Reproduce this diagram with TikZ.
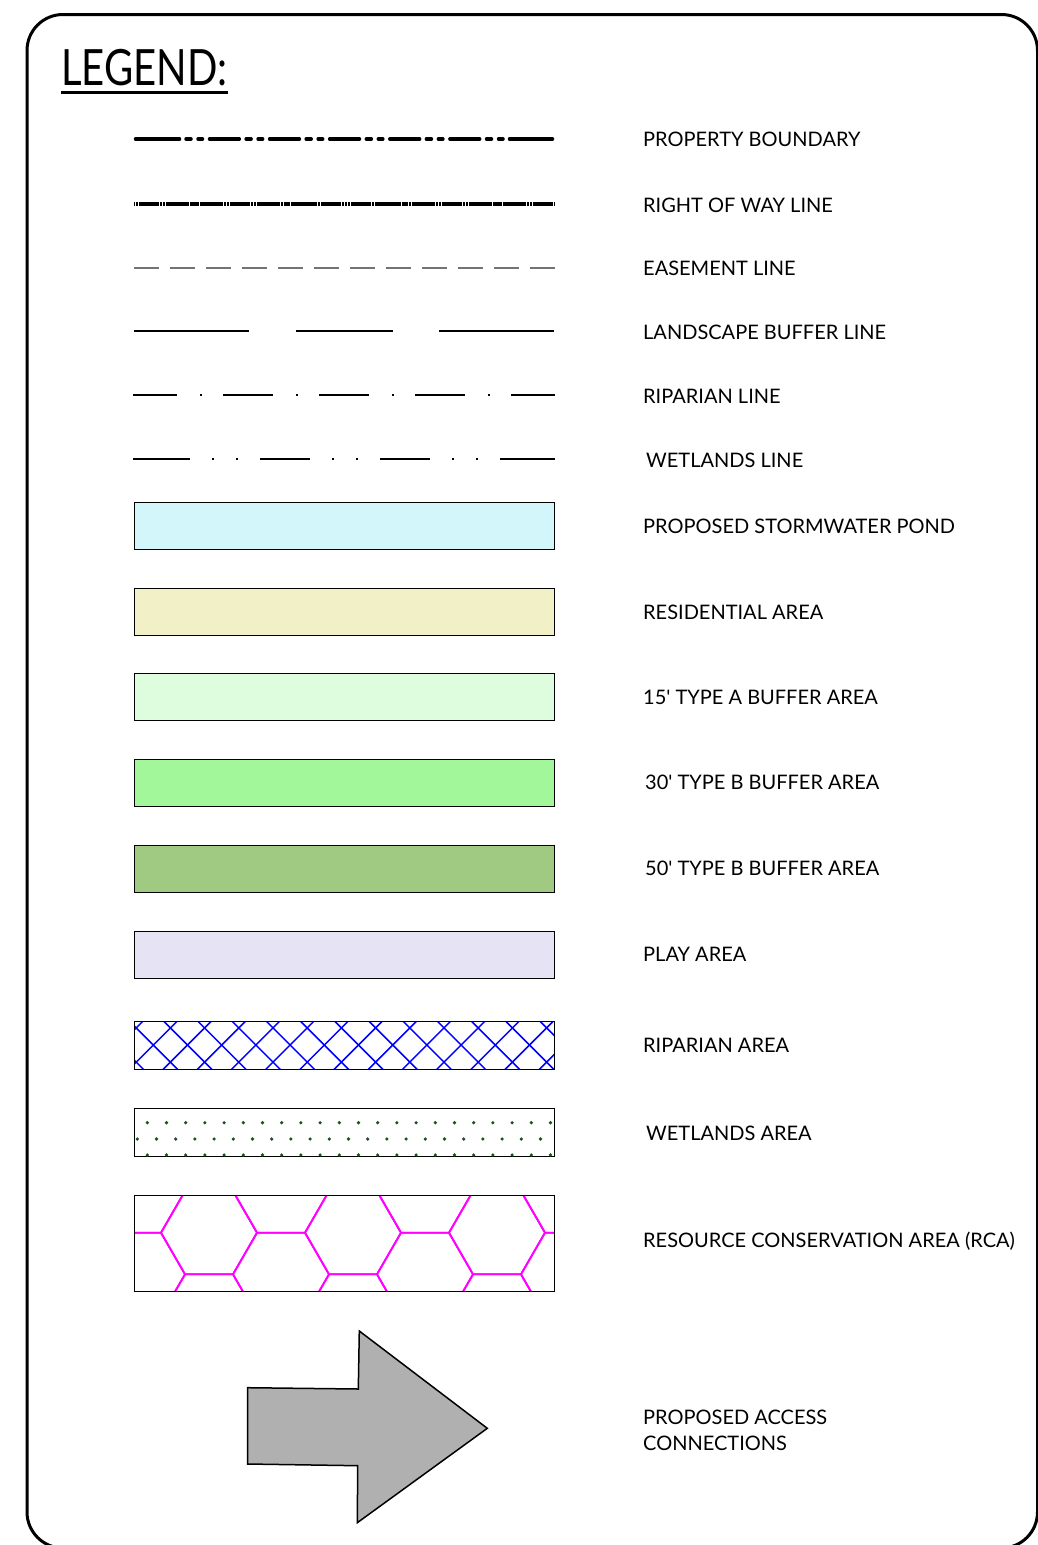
\documentclass[tikz,border=0pt]{standalone}
\usepackage{fontspec}
\setmainfont{Lato}
\usetikzlibrary{calc}

\definecolor{pondblue}{HTML}{D3F6FB}
\definecolor{resyellow}{HTML}{F2F0C6}
\definecolor{typeagreen}{HTML}{DEFDDE}
\definecolor{typebgreen}{HTML}{A2F79A}
\definecolor{typebdark}{HTML}{A0C981}
\definecolor{playlilac}{HTML}{E6E3F4}
\definecolor{wetdot}{HTML}{1F4F1F}
\definecolor{arrowgray}{HTML}{B0B0B0}
\definecolor{hexpink}{HTML}{FF00FF}

\tikzset{
  lbl/.style={anchor=base west, inner sep=0pt, font=\fontsize{20}{26}\selectfont},
  swatch/.style={draw=black, line width=1pt},
  heavyline/.style={line width=3.5pt, line cap=round},
  thinline/.style={line width=2pt},
  hexline/.style={draw=hexpink, line width=1.8pt},
}

\begin{document}
\begin{tikzpicture}[x=1pt,y=-1pt]
\useasboundingbox (0,0) rectangle (1038,1545);
% frame
\draw[line width=3pt, rounded corners=36pt] (27,14.5) rectangle (1037.5,1548);
\node[anchor=base west, inner sep=0pt, font=\fontsize{50}{60}\selectfont, xscale=0.8] (title) at (61,85) {LEGEND:};
\draw[line width=2.5pt] ([yshift=-7.5pt]title.base west) -- ([yshift=-7.5pt]title.base east);

% line types
\coordinate (pbA) at (135.5,139); \coordinate (pbB) at (552.5,139);
\draw[heavyline, dash pattern=on 29.8pt off 6.8pt on 5pt off 7pt on 4.5pt off 7pt, dash phase=46.2pt] (pbA) -- (pbB);
\draw[heavyline] (pbA) -- ++(44,0);
\draw[heavyline] (pbB) -- ++(-43,0);

\coordinate (rwA) at (134,204); \coordinate (rwB) at (554,204);
\draw[line width=3.5pt, dash pattern=on 20pt off 0.7pt on 2.5pt off 0.7pt on 2.5pt off 0.7pt on 2.5pt off 0.7pt, dash phase=25.3pt] (rwA) -- (rwB);

\coordinate (emA) at (134,268); \coordinate (emB) at (555,268);
\draw[black!55, line width=1.3pt, dash pattern=on 24.7pt off 11.3pt] (emA) -- (emB);

\draw[thinline] (134,331) -- (249,331) (296,331) -- (393,331) (439,331) -- (554,331);

\coordinate (rpA) at (133.3,395); \coordinate (rpB) at (555,395);
\draw[thinline, dash pattern=on 50pt off 22.5pt on 1.8pt off 21.7pt, dash phase=6pt] (rpA) -- (rpB);

\coordinate (wlA) at (133.3,459); \coordinate (wlB) at (555,459);
\draw[thinline, dash pattern=on 49.5pt off 22.5pt on 1.8pt off 22.2pt on 1.8pt off 22.2pt, dash phase=113.3pt] (wlA) -- (wlB);
\draw[thinline] (wlA) -- ++(55.7,0);
\draw[thinline] (wlB) -- ++(-55.3,0);

% colour fills
\draw[swatch, fill=pondblue] (134,502) rectangle (554,549);
\draw[swatch, fill=resyellow] (134,588) rectangle (554,635);
\draw[swatch, fill=typeagreen] (134,673) rectangle (554,720);
\draw[swatch, fill=typebgreen] (134,759) rectangle (554,806);
\draw[swatch, fill=typebdark] (134,845) rectangle (554,892);
\draw[swatch, fill=playlilac] (134,931) rectangle (554,978);

% riparian cross hatch
\begin{scope}
  \clip (134,1021) rectangle (554,1069);
  \foreach \i in {-2,...,13} {
    \draw[blue, line width=1.5pt] ({153.3+34.2*\i},1045) +(-30,-30) -- +(30,30);
    \draw[blue, line width=1.5pt] ({153.3+34.2*\i},1045) +(-30,30) -- +(30,-30);
  }
\end{scope}
\draw[swatch] (134,1021) rectangle (554,1069);

% wetlands dots
\draw[swatch] (134,1108) rectangle (554,1156);
\foreach \i in {0,...,21} {
  \fill[wetdot] ({147.3+19.2*\i},1122.7) circle (1.8pt);
  \fill[wetdot] ({137.3+19.2*\i},1139) circle (1.8pt);
  \fill[wetdot] ({147.3+19.2*\i},1155) circle (1.8pt);
}

% resource conservation honeycomb
\begin{scope}
  \clip (134,1195) rectangle (554,1291);
  \foreach \i in {0,...,6} \foreach \j in {-1,0,1} {
    \pgfmathsetmacro\hx{137+72*\i}
    \pgfmathsetmacro\hy{1191.1+41.6*mod(\i,2)+83.2*\j}
    \draw[hexline] (\hx,\hy) +(48,0) -- +(24,41.6) -- +(-24,41.6) -- +(-48,0) -- +(-24,-41.6) -- +(24,-41.6) -- cycle;
  }
\end{scope}
\draw[swatch] (134,1195) rectangle (554,1291);

% access arrow
\draw[line width=1.5pt, fill=arrowgray, line join=miter]
  (247.7,1387.7) -- (358.3,1389) -- (359.3,1331) -- (487.3,1428.3)
  -- (357.3,1522.7) -- (357.7,1465.7) -- (247.7,1464) -- cycle;

% labels
\node[lbl] (pb) at (643,146.5) {PROPERTY BOUNDARY};
\node[lbl] (rw) at (643,212) {RIGHT OF WAY LINE};
\node[lbl] (em) at (643,275) {EASEMENT LINE};
\node[lbl] (lb) at (643,339) {LANDSCAPE BUFFER LINE};
\node[lbl] (rp) at (643,403) {RIPARIAN LINE};
\node[lbl] (wl) at (646,467) {WETLANDS LINE};
\node[lbl] (sp) at (643,533) {PROPOSED STORMWATER POND};
\node[lbl] (ra) at (643,619) {RESIDENTIAL AREA};
\node[lbl] (ta) at (643,704) {15\textquotesingle{} TYPE A BUFFER AREA};
\node[lbl] (tb) at (645,789) {30\textquotesingle{} TYPE B BUFFER AREA};
\node[lbl] (tc) at (645,875) {50\textquotesingle{} TYPE B BUFFER AREA};
\node[lbl] (pa) at (643,961) {PLAY AREA};
\node[lbl] (rpa) at (643,1052) {RIPARIAN AREA};
\node[lbl] (wla) at (646,1140) {WETLANDS AREA};
\node[lbl] (rca) at (643,1247) {RESOURCE CONSERVATION AREA (RCA)};
\node[lbl] (ac1) at (643,1424) {PROPOSED ACCESS};
\node[lbl] (ac2) at (643,1450) {CONNECTIONS};
\end{tikzpicture}
\end{document}
